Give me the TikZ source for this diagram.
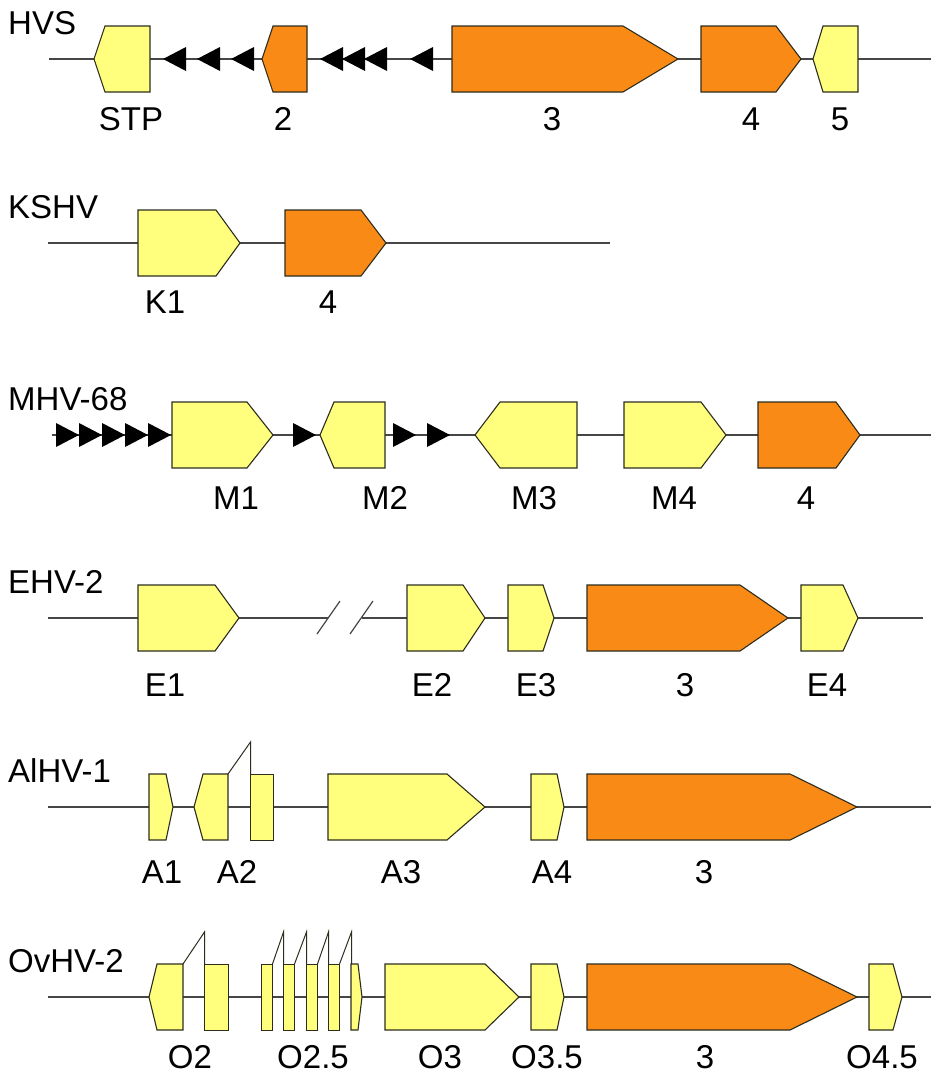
\documentclass[tikz,border=0pt]{standalone}
\usepackage{fontspec}
\setmainfont{Liberation Sans}
\definecolor{gy}{RGB}{255,255,125}
\definecolor{go}{RGB}{250,138,22}
\definecolor{edge}{RGB}{45,45,30}
\definecolor{bbc}{RGB}{70,70,70}
% gene shapes: #1 row y, then x positions, last = style
\newcommand\geneR[5]{\filldraw[#5] (#2,#1-33) -- (#3,#1-33) -- (#4,#1) -- (#3,#1+33) -- (#2,#1+33) -- cycle;}
\newcommand\geneL[5]{\filldraw[#5] (#2,#1) -- (#3,#1-33) -- (#4,#1-33) -- (#4,#1+33) -- (#3,#1+33) -- cycle;}
\newcommand\exonbox[4]{\filldraw[#4] (#2+0.5,#1-32.5) -- (#3+0.5,#1-32.5) -- (#3+0.5,#1+33.5) -- (#2+0.5,#1+33.5) -- cycle;}
\newcommand\triL[2]{\fill[black] (#2,#1) -- (#2+23,#1-12) -- (#2+23,#1+12) -- cycle;}
\newcommand\triR[2]{\fill[black] (#2,#1) -- (#2-23,#1-12) -- (#2-23,#1+12) -- cycle;}
\newcommand\splice[3]{\draw[spl] (#2,#1-33) -- (#3+0.5,#1-65) -- (#3+0.5,#1-33);}
\begin{document}
\begin{tikzpicture}[x=1pt,y=-1pt,
  yel/.style={fill=gy,draw=edge,line width=1.1pt,line join=miter},
  org/.style={fill=go,draw=edge,line width=1.1pt,line join=miter},
  exy/.style={fill=gy,draw=edge,line width=1pt,line join=miter},
  bb/.style={draw=bbc,line width=1.2pt},
  spl/.style={draw=edge,line width=1pt},
  lab/.style={font=\fontsize{33}{36}\selectfont,inner sep=0pt},
  rowlab/.style={lab,anchor=west}]
\useasboundingbox (0,0) rectangle (931,1076);
\fill[white] (0,0) rectangle (931,1076);

% ---------- HVS ----------
\node[rowlab] (hvs) at (8,23) {HVS};
\coordinate (h0) at (49,59); \coordinate (h1) at (931,59);
\draw[bb] (h0) -- (h1);
\geneL{59}{94}{105}{150}{yel}
\triL{59}{163}\triL{59}{197}\triL{59}{231}
\geneL{59}{262}{273}{307}{org}
\triL{59}{320}\triL{59}{342}\triL{59}{364}\triL{59}{410}
\geneR{59}{452}{623}{678}{org}
\geneR{59}{701}{776}{801}{org}
\geneL{59}{813}{823}{858}{yel}
\node[lab] (hSTP) at (131,119) {STP};
\node[lab] (h2) at (283,119) {2};
\node[lab] (h3) at (552,119) {3};
\node[lab] (h4) at (751,119) {4};
\node[lab] (h5) at (840,119) {5};

% ---------- KSHV ----------
\node[rowlab] (kshv) at (8,207) {KSHV};
\coordinate (k0) at (48,243); \coordinate (k1) at (610,243);
\draw[bb] (k0) -- (k1);
\geneR{243}{138}{216}{240}{yel}
\geneR{243}{285}{361}{386}{org}
\node[lab] (kK1) at (165,302) {K1};
\node[lab] (k4) at (328,302) {4};

% ---------- MHV-68 ----------
\node[rowlab] (mhv) at (8,399) {MHV-68};
\coordinate (m0) at (52,435); \coordinate (m1) at (931,435);
\draw[bb] (m0) -- (m1);
\triR{435}{79}\triR{435}{102}\triR{435}{125}\triR{435}{148}\triR{435}{171}
\geneR{435}{172}{247}{273}{yel}
\triR{435}{316}
\geneL{435}{320}{334}{385}{yel}
\triR{435}{416}\triR{435}{450}
\geneL{435}{475}{500}{577}{yel}
\geneR{435}{624}{701}{726}{yel}
\geneR{435}{758}{836}{860}{org}
\node[lab] (mM1) at (236,498) {M1};
\node[lab] (mM2) at (385,498) {M2};
\node[lab] (mM3) at (534,498) {M3};
\node[lab] (mM4) at (674,498) {M4};
\node[lab] (m4) at (806,498) {4};

% ---------- EHV-2 ----------
\node[rowlab] (ehv) at (8,582) {EHV-2};
\coordinate (e0) at (48,618); \coordinate (ea) at (328,618);
\coordinate (eb) at (362,618); \coordinate (e1) at (923,618);
\draw[bb] (e0) -- (ea);
\draw[bb] (eb) -- (e1);
\draw[bb] (317,634) -- (340,601);
\draw[bb] (350,634) -- (373,601);
\geneR{618}{138}{215}{239}{yel}
\geneR{618}{407}{463}{485}{yel}
\geneR{618}{508}{543}{554}{yel}
\geneR{618}{587}{740}{788}{org}
\geneR{618}{801}{843}{858}{yel}
\node[lab] (eE1) at (165,685) {E1};
\node[lab] (eE2) at (432,685) {E2};
\node[lab] (eE3) at (536,685) {E3};
\node[lab] (e3) at (685,685) {3};
\node[lab] (eE4) at (827,685) {E4};

% ---------- AlHV-1 ----------
\node[rowlab] (alhv) at (8,771) {AlHV-1};
\coordinate (a0) at (48,807); \coordinate (a1) at (931,807);
\draw[bb] (a0) -- (a1);
\geneR{807}{149}{166}{173}{yel}
\geneL{807}{194}{203}{228}{yel}
\exonbox{807}{250}{273}{exy}
\splice{807}{228}{250}
\geneR{807}{328}{447}{485}{yel}
\geneR{807}{531}{557}{564}{yel}
\geneR{807}{587}{790}{857}{org}
\node[lab] (aA1) at (162,872) {A1};
\node[lab] (aA2) at (237,872) {A2};
\node[lab] (aA3) at (401,872) {A3};
\node[lab] (aA4) at (552,872) {A4};
\node[lab] (a3) at (704,872) {3};

% ---------- OvHV-2 ----------
\node[rowlab] (ovhv) at (8,961) {OvHV-2};
\coordinate (o0) at (48,997); \coordinate (o1) at (931,997);
\draw[bb] (o0) -- (o1);
\geneL{997}{149}{157}{183}{yel}
\exonbox{997}{204}{228}{exy}
\splice{997}{183}{204}
\exonbox{997}{261}{272}{exy}
\exonbox{997}{283}{294}{exy}
\exonbox{997}{306}{317}{exy}
\exonbox{997}{328}{339}{exy}
\geneR{997}{351}{358}{362}{yel}
\splice{997}{272.5}{283}
\splice{997}{294.5}{306}
\splice{997}{317.5}{328}
\splice{997}{339.5}{351}
\geneR{997}{385}{485}{519}{yel}
\geneR{997}{531}{557}{564}{yel}
\geneR{997}{587}{790}{857}{org}
\geneR{997}{869}{893}{902}{yel}
\node[lab] (oO2) at (190,1057) {O2};
\node[lab] (oO25) at (313,1057) {O2.5};
\node[lab] (oO3) at (440,1057) {O3};
\node[lab] (oO35) at (547,1057) {O3.5};
\node[lab] (o3) at (705,1057) {3};
\node[lab] (oO45) at (882,1057) {O4.5};
\end{tikzpicture}
\end{document}
